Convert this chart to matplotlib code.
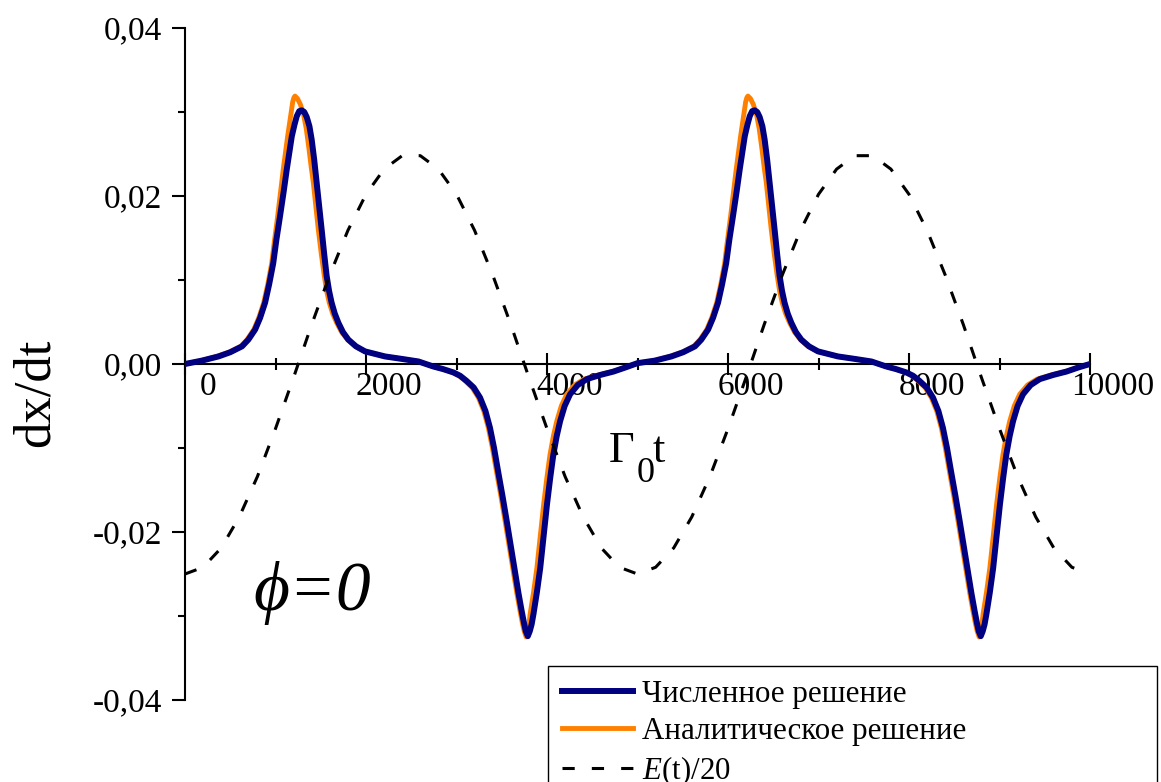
import matplotlib
matplotlib.use('Agg')
import matplotlib.pyplot as plt
from matplotlib.ticker import FixedLocator, FuncFormatter, MultipleLocator
from matplotlib.transforms import ScaledTranslation

plt.rcParams['font.family'] = ['Liberation Serif', 'DejaVu Serif']
plt.rcParams['mathtext.fontset'] = 'custom'
plt.rcParams['mathtext.rm'] = 'Liberation Serif'
plt.rcParams['mathtext.it'] = 'Liberation Serif:italic'

# ---------------- data ----------------
# numerical solution, first and second period
t_num_1 = [0, 185, 370, 500, 630, 700, 775, 830, 885, 930, 975, 1010, 1050, 1090, 1125,
           1155, 1180, 1210, 1235, 1262, 1290, 1318, 1345, 1375, 1400, 1428, 1455, 1483,
           1510, 1538, 1565, 1592, 1620, 1655, 1695, 1745, 1805, 1890, 1990, 2100, 2210,
           2400, 2580, 2745, 2850, 2965, 3040, 3110, 3190, 3260, 3320, 3370, 3415, 3460,
           3508, 3555, 3600, 3645, 3685, 3720, 3745, 3765, 3788, 3810, 3830, 3850, 3888,
           3925, 3962, 4000, 4035, 4070, 4107, 4145, 4195, 4255, 4340, 4440, 4590, 4735,
           4870, 5000]
v_num_1 = [0.0, 0.0004, 0.0009, 0.0014, 0.0021, 0.0029, 0.0041, 0.0055, 0.0073, 0.0095,
           0.0120, 0.0148, 0.0176, 0.0205, 0.0232, 0.0253, 0.0271, 0.0285, 0.0295, 0.0301,
           0.0302, 0.0300, 0.0294, 0.0283, 0.0267, 0.0243, 0.0216, 0.0188, 0.0160, 0.0131,
           0.0105, 0.0087, 0.0073, 0.0060, 0.0049, 0.0038, 0.0029, 0.0021, 0.0015, 0.0012,
           0.0009, 0.0006, 0.0003, -0.0003, -0.0006, -0.0010, -0.0014, -0.0020, -0.0028,
           -0.0040, -0.0056, -0.0076, -0.0100, -0.0128, -0.0157, -0.0187, -0.0217, -0.0247,
           -0.0273, -0.0294, -0.0308, -0.0318, -0.0324, -0.0318, -0.0310, -0.0298, -0.0272,
           -0.0243, -0.0205, -0.0167, -0.0136, -0.0108, -0.0086, -0.0068, -0.0050, -0.0036,
           -0.0025, -0.0018, -0.0013, -0.0009, -0.0004, 0.0001]
t_num_2 = [5190, 5375, 5505, 5635, 5705, 5780, 5835, 5890, 5935, 5980, 6015, 6055, 6095,
           6130, 6160, 6185, 6215, 6240, 6267, 6295, 6323, 6350, 6380, 6405, 6433, 6460,
           6488, 6515, 6543, 6570, 6597, 6625, 6660, 6700, 6750, 6810, 6895, 6995, 7105,
           7215, 7405, 7585, 7750, 7855, 7970, 8045, 8115, 8195, 8265, 8325, 8375, 8420,
           8465, 8513, 8560, 8605, 8650, 8690, 8725, 8750, 8770, 8793, 8815, 8835, 8855,
           8893, 8930, 8967, 9005, 9040, 9075, 9112, 9150, 9200, 9260, 9345, 9445, 9595,
           9740, 9875, 10000]
v_num_2 = [0.0004, 0.0009, 0.0014, 0.0021, 0.0029, 0.0041, 0.0055, 0.0073, 0.0095,
           0.0120, 0.0148, 0.0176, 0.0205, 0.0232, 0.0253, 0.0271, 0.0285, 0.0295, 0.0301,
           0.0302, 0.0300, 0.0294, 0.0283, 0.0267, 0.0243, 0.0216, 0.0188, 0.0160, 0.0131,
           0.0105, 0.0087, 0.0073, 0.0060, 0.0049, 0.0038, 0.0029, 0.0021, 0.0015, 0.0012,
           0.0009, 0.0006, 0.0003, -0.0003, -0.0006, -0.0010, -0.0014, -0.0020, -0.0028,
           -0.0040, -0.0056, -0.0076, -0.0100, -0.0128, -0.0157, -0.0187, -0.0217, -0.0247,
           -0.0273, -0.0294, -0.0308, -0.0318, -0.0324, -0.0318, -0.0310, -0.0298, -0.0272,
           -0.0243, -0.0205, -0.0167, -0.0136, -0.0108, -0.0086, -0.0068, -0.0050, -0.0036,
           -0.0025, -0.0018, -0.0013, -0.0009, -0.0004, 0.0]

# analytical solution, first and second period
t_ana_1 = [0, 180, 350, 485, 615, 685, 760, 815, 870, 915, 958, 990, 1024, 1056, 1086,
           1112, 1134, 1155, 1171, 1190, 1203, 1215, 1243, 1275, 1310, 1340, 1370, 1395,
           1418, 1446, 1473, 1506, 1539, 1565, 1594, 1632, 1676, 1730, 1795, 1880, 1985,
           2100, 2210, 2400, 2580, 2740, 2845, 2955, 3028, 3095, 3173, 3242, 3302, 3352,
           3397, 3442, 3490, 3537, 3582, 3627, 3667, 3702, 3727, 3748, 3770, 3790, 3813,
           3851, 3888, 3925, 3963, 3998, 4033, 4070, 4108, 4158, 4218, 4305, 4410, 4570,
           4725, 4865, 5000]
v_ana_1 = [0.0, 0.0004, 0.0009, 0.0014, 0.0021, 0.0029, 0.0041, 0.0055, 0.0073, 0.0095,
           0.0120, 0.0148, 0.0176, 0.0205, 0.0232, 0.0253, 0.0271, 0.0286, 0.0298, 0.0312,
           0.0317, 0.0319, 0.0316, 0.0309, 0.0297, 0.0280, 0.0256, 0.0234, 0.0216, 0.0188,
           0.0160, 0.0131, 0.0105, 0.0087, 0.0073, 0.0060, 0.0049, 0.0038, 0.0029, 0.0021,
           0.0015, 0.0012, 0.0009, 0.0006, 0.0003, -0.0003, -0.0006, -0.0010, -0.0014,
           -0.0020, -0.0028, -0.0040, -0.0056, -0.0076, -0.0100, -0.0128, -0.0157, -0.0187,
           -0.0217, -0.0247, -0.0273, -0.0294, -0.0308, -0.0318, -0.0325, -0.0320, -0.0298,
           -0.0272, -0.0243, -0.0205, -0.0167, -0.0136, -0.0108, -0.0086, -0.0068, -0.0050,
           -0.0036, -0.0025, -0.0018, -0.0013, -0.0009, -0.0004, 0.0001]
t_ana_2 = [5185, 5355, 5490, 5620, 5690, 5765, 5820, 5875, 5920, 5963, 5995, 6029, 6061,
           6091, 6117, 6139, 6160, 6176, 6195, 6208, 6220, 6248, 6280, 6315, 6345, 6375,
           6400, 6423, 6451, 6478, 6511, 6544, 6570, 6599, 6637, 6681, 6735, 6800, 6885,
           6990, 7105, 7215, 7405, 7585, 7745, 7850, 7960, 8033, 8100, 8178, 8247, 8307,
           8357, 8402, 8447, 8495, 8542, 8587, 8632, 8672, 8707, 8732, 8753, 8775, 8795,
           8818, 8856, 8893, 8930, 8968, 9003, 9038, 9075, 9113, 9163, 9223, 9310, 9415,
           9575, 9730, 9870, 10000]
v_ana_2 = [0.0004, 0.0009, 0.0014, 0.0021, 0.0029, 0.0041, 0.0055, 0.0073, 0.0095,
           0.0120, 0.0148, 0.0176, 0.0205, 0.0232, 0.0253, 0.0271, 0.0286, 0.0298, 0.0312,
           0.0317, 0.0319, 0.0316, 0.0309, 0.0297, 0.0280, 0.0256, 0.0234, 0.0216, 0.0188,
           0.0160, 0.0131, 0.0105, 0.0087, 0.0073, 0.0060, 0.0049, 0.0038, 0.0029, 0.0021,
           0.0015, 0.0012, 0.0009, 0.0006, 0.0003, -0.0003, -0.0006, -0.0010, -0.0014,
           -0.0020, -0.0028, -0.0040, -0.0056, -0.0076, -0.0100, -0.0128, -0.0157, -0.0187,
           -0.0217, -0.0247, -0.0273, -0.0294, -0.0308, -0.0318, -0.0325, -0.0320, -0.0298,
           -0.0272, -0.0243, -0.0205, -0.0167, -0.0136, -0.0108, -0.0086, -0.0068, -0.0050,
           -0.0036, -0.0025, -0.0018, -0.0013, -0.0009, -0.0004, 0.0]

# driving field E(t)/20
t_field = [0, 200, 400, 600, 800, 1000, 1200, 1400, 1600, 1800, 2000, 2200, 2400, 2600,
           2800, 3000, 3200, 3400, 3600, 3800, 4000, 4200, 4400, 4600, 4800, 5000, 5200,
           5400, 5600, 5800, 6000, 6200, 6400, 6600, 6800, 7000, 7200, 7400, 7600, 7800,
           8000, 8200, 8400, 8600, 8800, 9000, 9200, 9400, 9600, 9800, 10000]
v_field = [-0.0250, -0.0242, -0.0219, -0.0182, -0.0134, -0.0077, -0.0016, 0.0047, 0.0106,
           0.0159, 0.0202, 0.0232, 0.0248, 0.0248, 0.0232, 0.0202, 0.0159, 0.0106, 0.0047,
           -0.0016, -0.0077, -0.0134, -0.0182, -0.0219, -0.0242, -0.0250, -0.0242, -0.0219,
           -0.0182, -0.0134, -0.0077, -0.0016, 0.0047, 0.0106, 0.0159, 0.0202, 0.0232,
           0.0248, 0.0248, 0.0232, 0.0202, 0.0159, 0.0106, 0.0047, -0.0016, -0.0077,
           -0.0134, -0.0182, -0.0219, -0.0242, -0.0250]

x_major = [0, 2000, 4000, 6000, 8000, 10000]
labels = ['Численное решение', 'Аналитическое решение', r'$E$(t)/20']

t_num = t_num_1 + t_num_2
v_num = v_num_1 + v_num_2
t_ana = t_ana_1 + t_ana_2
v_ana = v_ana_1 + v_ana_2
assert len(t_num) == len(v_num) and len(t_ana) == len(v_ana) and len(t_field) == len(v_field)

# ---------------- figure ----------------
W, H = 1161, 782
fig = plt.figure(figsize=(W / 100, H / 100), dpi=100)
ax = fig.add_axes([185 / W, (H - 700) / H, 905 / W, 672 / H])

l_ana, = ax.plot(t_ana, v_ana, color='#FF8000', lw=3.5, zorder=2)
l_num, = ax.plot(t_num, v_num, color='#000080', lw=4.3, zorder=3)
l_e, = ax.plot(t_field, v_field, color='black', lw=2.2, ls=(0, (4.0, 5.6)), zorder=4)

ax.set_xlim(0, 10000)
ax.set_ylim(-0.04, 0.04)

for s in ('top', 'right'):
    ax.spines[s].set_visible(False)
ax.spines['bottom'].set_position(('data', 0))
ax.spines['bottom'].set_linewidth(1.5)
ax.spines['left'].set_linewidth(1.5)

ax.xaxis.set_major_locator(FixedLocator(x_major))
ax.xaxis.set_minor_locator(MultipleLocator(1000))
ax.yaxis.set_major_locator(MultipleLocator(0.02))
ax.yaxis.set_minor_locator(MultipleLocator(0.01))
ax.yaxis.set_major_formatter(FuncFormatter(lambda v, p: f"{v:.2f}".replace('.', ',')))
ax.xaxis.set_major_formatter(FuncFormatter(lambda v, p: f"{int(round(v))}"))

ax.tick_params(axis='x', which='major', direction='inout', length=16.5, width=1.5,
               labelsize=24, pad=-3)
ax.tick_params(axis='x', which='minor', direction='inout', length=8.6, width=1.5)
ax.tick_params(axis='y', which='major', direction='out', length=9.4, width=1.5,
               labelsize=24, pad=7)
ax.tick_params(axis='y', which='minor', direction='out', length=5, width=1.5)

off = ScaledTranslation(23 / 100, 0, fig.dpi_scale_trans)
for lab in ax.get_xticklabels():
    lab.set_transform(lab.get_transform() + off)

# axis titles and annotations
fig.text(36 / W, 1 - 393 / H, 'dx/dt', rotation=90, fontsize=38, ha='center', va='center')
fig.text(609 / W, 1 - 462 / H, 'Γ', fontsize=32, ha='left', va='baseline')
fig.text(637 / W, 1 - 482 / H, '0', fontsize=26, ha='left', va='baseline')
fig.text(653 / W, 1 - 462 / H, 't', fontsize=32, ha='left', va='baseline')
fig.text(253 / W, 1 - 610 / H, 'ϕ=0', fontsize=50, style='italic', ha='left',
         va='baseline')

top = (H - 666) / H
leg = ax.legend(handles=[l_num, l_ana, l_e], labels=labels,
                loc='upper left', mode='expand',
                bbox_to_anchor=(548 / W, top - 0.1, (1157 - 548) / W, 0.1),
                bbox_transform=fig.transFigure, borderaxespad=0,
                fontsize=22.3, frameon=True, fancybox=False, framealpha=1,
                edgecolor='black', borderpad=0.45, handlelength=2.3,
                handletextpad=0.3, labelspacing=0.26)
leg.get_frame().set_linewidth(1.0)

fig.savefig('out.png', dpi=100)
